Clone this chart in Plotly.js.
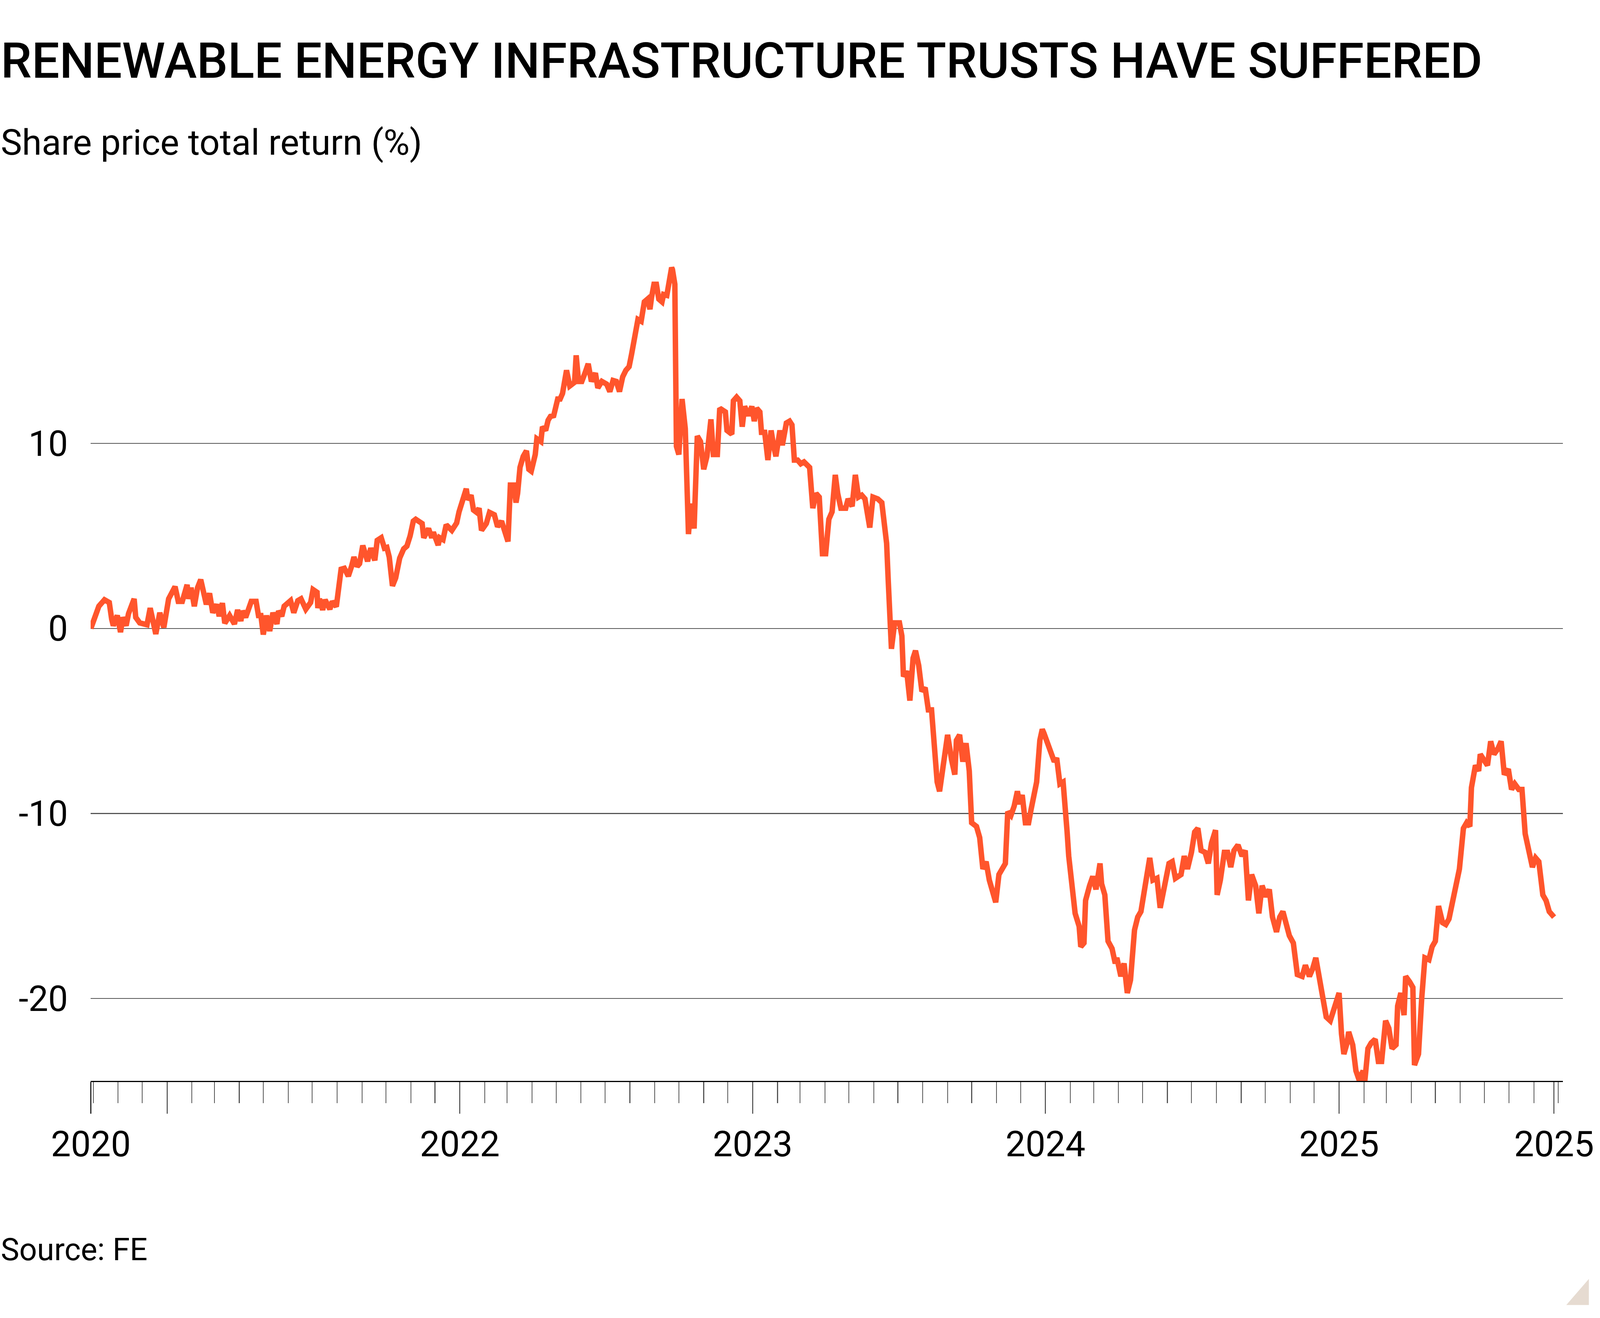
<!DOCTYPE html>
<html>
<head>
<meta charset="utf-8">
<script src="https://cdn.plot.ly/plotly-3.0.1.min.js"></script>
<style>
html,body{margin:0;padding:0;background:#fff;overflow:hidden;}
#chart{width:100vw;height:100vh;}
</style>
</head>
<body>
<div id="chart"></div>
<script>
// ---- Data: share price total return (%) ----
const dates2020 = ["2020-09-28","2020-10-08","2020-10-15","2020-10-21","2020-10-24","2020-10-26","2020-10-31","2020-11-04","2020-11-07","2020-11-11","2020-11-14","2020-11-21","2020-11-23","2020-11-28","2020-12-07","2020-12-11","2020-12-18","2020-12-23","2020-12-28"];
const values2020 = [0.0,1.2,1.55,1.4,0.5,0.15,0.7,-0.2,0.6,0.15,0.8,1.6,0.6,0.3,0.2,1.1,-0.3,0.85,0.05];

const dates2021 = ["2021-01-03","2021-01-11","2021-01-15","2021-01-20","2021-01-26","2021-01-28","2021-01-31","2021-02-04","2021-02-08","2021-02-12","2021-02-19","2021-02-23","2021-02-27","2021-03-04","2021-03-07","2021-03-11","2021-03-14","2021-03-20","2021-03-26","2021-03-30","2021-04-03","2021-04-05","2021-04-09","2021-04-16","2021-04-22","2021-04-25","2021-04-28","2021-05-01","2021-05-05","2021-05-09","2021-05-13","2021-05-18","2021-05-20","2021-05-24","2021-05-27","2021-06-04","2021-06-08","2021-06-13","2021-06-17","2021-06-23","2021-06-29","2021-07-02","2021-07-07","2021-07-08","2021-07-10","2021-07-14","2021-07-17","2021-07-23","2021-07-26","2021-07-31","2021-08-04","2021-08-06","2021-08-10","2021-08-15","2021-08-19","2021-08-22","2021-08-26","2021-08-29","2021-09-02","2021-09-08","2021-09-12","2021-09-17","2021-09-20","2021-09-25","2021-09-29","2021-10-02","2021-10-05","2021-10-09","2021-10-13","2021-10-18","2021-10-23","2021-10-27","2021-10-31","2021-11-04","2021-11-07","2021-11-15","2021-11-17","2021-11-23","2021-11-27","2021-11-29","2021-12-05","2021-12-07","2021-12-11","2021-12-15","2021-12-22","2021-12-28","2021-12-31"];
const values2021 = [1.6,2.26,1.46,1.46,2.36,1.6,2.2,1.2,2.2,2.64,1.3,1.9,0.85,1.3,0.66,1.37,0.28,0.7,0.24,1.0,0.4,0.95,0.6,1.46,1.46,0.7,0.7,-0.33,0.7,-0.14,0.85,0.24,0.95,0.66,1.2,1.5,0.85,1.5,1.6,1.04,1.4,2.1,1.95,1.1,1.6,1.0,1.55,1.04,1.46,1.18,2.26,3.2,3.25,2.83,3.35,3.86,3.35,3.5,4.48,3.63,4.34,3.68,4.76,4.9,4.34,4.38,3.86,2.3,2.73,3.8,4.3,4.45,5.0,5.8,5.9,5.67,4.9,5.4,4.9,5.2,4.5,4.9,4.8,5.6,5.3,5.7,6.3];

const dates2022 = ["2022-01-05","2022-01-09","2022-01-11","2022-01-15","2022-01-18","2022-01-22","2022-01-25","2022-01-28","2022-02-03","2022-02-07","2022-02-13","2022-02-17","2022-02-22","2022-02-26","2022-03-02","2022-03-05","2022-03-09","2022-03-12","2022-03-14","2022-03-17","2022-03-21","2022-03-25","2022-03-28","2022-03-31","2022-04-05","2022-04-07","2022-04-12","2022-04-14","2022-04-18","2022-04-21","2022-04-24","2022-04-28","2022-04-30","2022-05-03","2022-05-06","2022-05-09","2022-05-14","2022-05-18","2022-05-24","2022-05-26","2022-05-29","2022-06-02","2022-06-06","2022-06-10","2022-06-14","2022-06-19","2022-06-22","2022-06-27","2022-07-03","2022-07-07","2022-07-11","2022-07-15","2022-07-19","2022-07-23","2022-07-27","2022-07-31","2022-08-03","2022-08-07","2022-08-11","2022-08-15","2022-08-19","2022-08-23","2022-08-26","2022-08-28","2022-08-31","2022-09-03","2022-09-06","2022-09-10","2022-09-12","2022-09-16","2022-09-19","2022-09-22","2022-09-23","2022-09-26","2022-09-28","2022-10-01","2022-10-05","2022-10-09","2022-10-13","2022-10-16","2022-10-20","2022-10-24","2022-10-28","2022-11-01","2022-11-05","2022-11-10","2022-11-13","2022-11-18","2022-11-21","2022-11-28","2022-11-30","2022-12-06","2022-12-08","2022-12-12","2022-12-16","2022-12-19","2022-12-22","2022-12-27","2022-12-31"];
const values2022 = [6.9,7.55,6.95,7.2,6.4,6.27,6.5,5.3,5.67,6.27,6.14,5.5,5.8,5.2,4.7,7.75,7.75,6.8,7.3,8.7,9.3,9.6,8.6,8.5,9.4,10.25,10.1,10.9,10.7,11.25,11.46,11.5,11.9,12.4,12.4,12.7,13.95,13.1,13.3,14.76,13.35,13.35,13.8,14.3,13.35,13.8,13.0,13.35,13.2,12.8,13.4,13.35,12.8,13.6,13.95,14.15,14.8,16.0,16.7,16.6,17.65,17.8,17.25,17.9,18.6,18.6,17.8,17.65,18.05,18.0,19.0,19.5,19.4,18.6,9.84,9.4,12.4,10.8,5.1,6.75,5.4,10.4,10.1,8.6,9.3,11.3,9.4,9.4,11.9,11.7,10.7,10.5,12.3,12.5,12.3,10.9,12.0,11.5,12.0];

const dates2023 = ["2023-01-03","2023-01-06","2023-01-10","2023-01-12","2023-01-16","2023-01-20","2023-01-24","2023-01-27","2023-01-30","2023-02-04","2023-02-07","2023-02-12","2023-02-16","2023-02-19","2023-02-22","2023-02-26","2023-03-02","2023-03-06","2023-03-13","2023-03-17","2023-03-21","2023-03-25","2023-03-29","2023-04-02","2023-04-06","2023-04-10","2023-04-14","2023-04-17","2023-04-21","2023-04-27","2023-04-30","2023-05-05","2023-05-09","2023-05-13","2023-05-17","2023-05-21","2023-05-25","2023-05-27","2023-05-31","2023-06-06","2023-06-11","2023-06-14","2023-06-17","2023-06-19","2023-06-22","2023-06-23","2023-06-27","2023-07-03","2023-07-06","2023-07-08","2023-07-12","2023-07-16","2023-07-20","2023-07-23","2023-07-27","2023-07-31","2023-08-04","2023-08-08","2023-08-12","2023-08-15","2023-08-19","2023-08-22","2023-08-25","2023-08-28","2023-09-01","2023-09-06","2023-09-10","2023-09-12","2023-09-16","2023-09-20","2023-09-24","2023-09-28","2023-10-01","2023-10-07","2023-10-11","2023-10-15","2023-10-19","2023-10-23","2023-10-27","2023-10-31","2023-11-04","2023-11-07","2023-11-12","2023-11-15","2023-11-19","2023-11-23","2023-11-27","2023-11-30","2023-12-03","2023-12-07","2023-12-11","2023-12-14","2023-12-18","2023-12-21","2023-12-25","2023-12-28","2023-12-30"];
const values2023 = [11.2,11.9,11.7,10.6,10.6,9.1,10.7,9.9,9.3,10.7,9.9,11.1,11.2,11.0,9.1,9.1,8.9,9.0,8.7,6.5,7.3,7.1,4.04,4.04,5.9,6.3,8.3,7.3,6.5,6.5,7.0,6.6,8.3,7.1,7.2,7.0,5.65,5.45,7.1,7.0,6.8,5.85,4.6,2.6,0.5,-1.1,0.3,0.3,-0.4,-2.6,-2.3,-3.9,-1.6,-1.2,-2.0,-3.4,-3.2,-4.4,-4.4,-6.5,-8.3,-8.8,-7.9,-6.5,-5.75,-7.1,-7.9,-6.05,-5.75,-7.2,-6.2,-7.7,-10.5,-10.7,-11.3,-13.0,-12.6,-13.6,-14.1,-14.8,-13.3,-13.1,-12.7,-9.9,-10.1,-9.6,-8.8,-9.5,-9.0,-10.5,-10.5,-9.8,-9.1,-8.3,-6.05,-5.45,-5.65];

const dates2024 = ["2024-01-04","2024-01-08","2024-01-12","2024-01-15","2024-01-19","2024-01-23","2024-01-26","2024-01-28","2024-01-30","2024-02-03","2024-02-07","2024-02-12","2024-02-14","2024-02-18","2024-02-20","2024-02-25","2024-02-29","2024-03-04","2024-03-09","2024-03-11","2024-03-15","2024-03-19","2024-03-24","2024-03-28","2024-03-30","2024-04-04","2024-04-08","2024-04-12","2024-04-16","2024-04-21","2024-04-25","2024-04-29","2024-05-06","2024-05-10","2024-05-14","2024-05-19","2024-05-23","2024-05-27","2024-06-03","2024-06-07","2024-06-11","2024-06-18","2024-06-22","2024-06-26","2024-07-01","2024-07-05","2024-07-09","2024-07-13","2024-07-18","2024-07-22","2024-07-26","2024-07-31","2024-08-02","2024-08-06","2024-08-11","2024-08-15","2024-08-19","2024-08-23","2024-08-28","2024-09-02","2024-09-06","2024-09-10","2024-09-14","2024-09-19","2024-09-23","2024-09-27","2024-10-02","2024-10-06","2024-10-10","2024-10-15","2024-10-19","2024-10-23","2024-10-28","2024-10-31","2024-11-05","2024-11-10","2024-11-16","2024-11-20","2024-11-25","2024-11-29","2024-12-03","2024-12-08","2024-12-12","2024-12-16","2024-12-21","2024-12-25","2024-12-29"];
const values2024 = [-6.3,-6.6,-7.2,-7.0,-8.4,-8.3,-9.6,-11.0,-12.3,-14.1,-15.4,-16.1,-17.2,-17.0,-14.7,-13.9,-13.4,-14.1,-12.7,-13.8,-14.4,-16.9,-17.3,-18.1,-17.8,-18.8,-18.1,-19.7,-19.0,-16.3,-15.6,-15.3,-13.5,-12.4,-13.6,-13.5,-15.1,-14.1,-12.7,-12.6,-13.5,-13.3,-12.3,-13.0,-12.1,-11.0,-10.8,-12.0,-12.1,-12.7,-11.6,-10.9,-14.4,-13.6,-12.1,-12.1,-12.9,-12.0,-11.7,-12.3,-12.0,-14.7,-13.3,-13.9,-15.4,-13.9,-14.5,-14.1,-15.6,-16.4,-15.6,-15.3,-16.1,-16.6,-17.0,-18.7,-18.8,-18.2,-18.8,-18.4,-17.8,-19.1,-20.3,-21.0,-21.2,-20.7,-20.0];

const dates2025 = ["2025-01-01","2025-01-04","2025-01-07","2025-01-11","2025-01-13","2025-01-18","2025-01-22","2025-01-26","2025-01-31","2025-02-02","2025-02-06","2025-02-10","2025-02-15","2025-02-19","2025-02-23","2025-02-28","2025-03-04","2025-03-08","2025-03-13","2025-03-15","2025-03-19","2025-03-23","2025-03-25","2025-03-30","2025-04-03","2025-04-05","2025-04-10","2025-04-14","2025-04-18","2025-04-23","2025-04-27","2025-05-01","2025-05-05","2025-05-10","2025-05-14","2025-05-18","2025-05-23","2025-05-27","2025-05-31","2025-06-05","2025-06-09","2025-06-13","2025-06-15","2025-06-20","2025-06-24","2025-06-26","2025-06-30","2025-07-05","2025-07-09","2025-07-13","2025-07-18","2025-07-22","2025-07-26","2025-07-31","2025-08-04","2025-08-08","2025-08-13","2025-08-17","2025-08-21","2025-08-26","2025-08-30","2025-09-03","2025-09-07","2025-09-12","2025-09-16","2025-09-20","2025-09-26"];
const values2025 = [-19.7,-21.9,-23.0,-22.4,-21.8,-22.5,-23.9,-24.4,-23.9,-24.5,-22.7,-22.4,-22.2,-23.4,-23.4,-21.2,-21.6,-22.7,-22.5,-20.4,-19.7,-20.9,-18.8,-19.1,-19.4,-23.6,-23.0,-20.0,-17.8,-17.9,-17.2,-16.9,-15.0,-15.9,-16.0,-15.7,-14.7,-13.8,-13.0,-10.8,-10.5,-10.7,-8.6,-7.4,-7.7,-6.8,-7.1,-7.4,-6.1,-6.8,-6.5,-6.1,-7.9,-7.6,-8.7,-8.4,-8.7,-8.7,-11.1,-12.1,-12.9,-12.4,-12.6,-14.4,-14.7,-15.3,-15.6];

// ---- Axis tick labels ----
const xTickVals = ["2020-09-28","2021-01-01","2022-01-01","2023-01-01","2024-01-01","2025-01-01","2025-09-26"];
const xTickText = ["2020","","2022","2023","2024","2025","2025"];
const yTickVals = [10, 0, -10, -20];
const yTickText = ["10", "0", "-10", "-20"];

// ---- Texts ----
const titleText = "RENEWABLE ENERGY INFRASTRUCTURE TRUSTS HAVE SUFFERED";
const subtitleText = "Share price total return (%)";
const sourceText = "Source: FE";

const allDates = [].concat(dates2020, dates2021, dates2022, dates2023, dates2024, dates2025);
const allValues = [].concat(values2020, values2021, values2022, values2023, values2024, values2025);

// Fit the design (made for 4724 x 3374) to the actual viewport
const W = window.innerWidth || 4724;
const H = window.innerHeight || 3374;
const sx = W / 4724, sy = H / 3374, s = Math.min(sx, sy);
const chartDiv = document.getElementById("chart");
chartDiv.style.width = W + "px";
chartDiv.style.height = H + "px";

const FONT = "Roboto, 'Liberation Sans', Arial, sans-serif";

// plot area in design pixels
const PLOT_TOP = 614, PLOT_BOTTOM = 2767;
// place a text so that its cap top lands at a design y (Roboto ascent-cap ~0.217 em)
function capTopToPaperY(capTopDesign, fontPx) {
  const boxTop = capTopDesign * sy - 0.217 * fontPx - 1;
  return (PLOT_BOTTOM * sy - boxTop) / ((PLOT_BOTTOM - PLOT_TOP) * sy);
}
const titleSize = 145 * s, subtitleSize = 105.5 * s, sourceSize = 92 * s;
const textX = -268 / (4724 - 268 - 110);

const trace = {
  x: allDates,
  y: allValues,
  type: "scatter",
  mode: "lines",
  line: {color: "#FF552C", width: 15 * (sx + sy) / 2},
  hoverinfo: "skip"
};

const layout = {
  width: W,
  height: H,
  margin: {l: 268 * sx, r: 110 * sx, t: PLOT_TOP * sy, b: (3374 - PLOT_BOTTOM) * sy, pad: 0},
  paper_bgcolor: "#ffffff",
  plot_bgcolor: "#ffffff",
  showlegend: false,
  font: {family: FONT, color: "#000000"},
  xaxis: {
    type: "date",
    range: ["2020-09-27 18:00", "2025-10-07"],
    tickmode: "array",
    tickvals: xTickVals,
    ticktext: xTickText,
    ticks: "outside",
    ticklen: 81 * sy,
    tickwidth: 2.5 * s,
    tickcolor: "#222222",
    showline: true,
    linecolor: "#000000",
    linewidth: 3 * s,
    showgrid: false,
    zeroline: false,
    tickfont: {family: FONT, size: 105 * s, color: "#000000"},
    minor: {
      ticks: "outside",
      ticklen: 54 * sy,
      tickwidth: 2.5 * s,
      tickcolor: "#555555",
      tickmode: "linear",
      tick0: "2020-10-01",
      dtick: "M1",
      showgrid: false
    },
    fixedrange: true
  },
  yaxis: {
    range: [-24.45, 21],
    tickmode: "array",
    tickvals: yTickVals,
    ticktext: yTickText,
    ticks: "",
    showgrid: true,
    gridcolor: "#555555",
    gridwidth: 2.5 * s,
    zeroline: false,
    showline: false,
    ticklabelstandoff: Math.round(66 * sx),
    tickfont: {family: FONT, size: 104 * s, color: "#000000"},
    fixedrange: true
  },
  annotations: [
    {text: titleText, xref: "paper", yref: "paper", x: textX, y: capTopToPaperY(108, titleSize),
     xanchor: "left", yanchor: "top", showarrow: false,
     font: {family: FONT, size: titleSize, weight: 500, color: "#000000"}},
    {text: subtitleText, xref: "paper", yref: "paper", x: textX, y: capTopToPaperY(330, subtitleSize),
     xanchor: "left", yanchor: "top", showarrow: false,
     font: {family: FONT, size: subtitleSize, color: "#000000"}},
    {text: sourceText, xref: "paper", yref: "paper", x: textX, y: capTopToPaperY(3168, sourceSize),
     xanchor: "left", yanchor: "top", showarrow: false,
     font: {family: FONT, size: sourceSize, color: "#000000"}}
  ],
  shapes: [
    {type: "path", xref: "paper", yref: "paper",
     path: "M 1.00230 -0.26647 L 1.01765 -0.26647 L 1.01765 -0.23548 Z",
     fillcolor: "#E6DBD1", line: {width: 0}}
  ]
};

Plotly.newPlot(chartDiv, [trace], layout, {displayModeBar: false, staticPlot: true});
</script>
</body>
</html>
